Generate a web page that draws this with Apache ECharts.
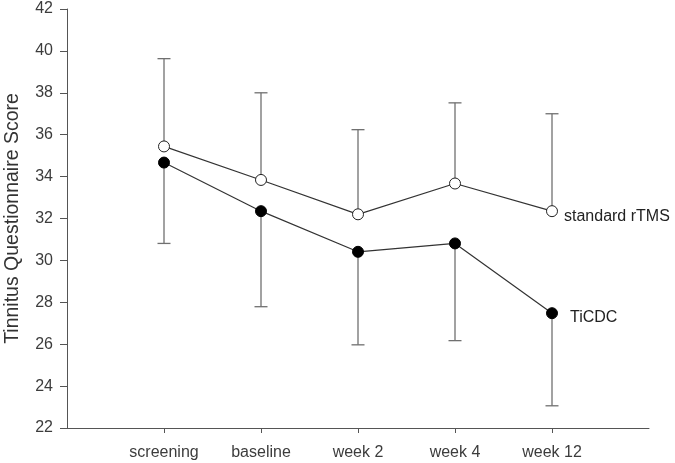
<!DOCTYPE html>
<html>
<head>
  <meta charset="UTF-8">
  <title>Tinnitus Questionnaire Score</title>
  <style>
    body { margin: 0; padding: 0; background: #fff; }
    #chart { width: 675px; height: 463px; }
  </style>
</head>
<body>
  <div id="chart"></div>
  <script src="https://cdn.jsdelivr.net/npm/echarts@6/dist/echarts.min.js"></script>
  <script>
    // time points (padded with empty slots at both ends, like the original axis)
    var timePoints = ['', 'screening', 'baseline', 'week 2', 'week 4', 'week 12', ''];

    // standard rTMS: mean and upper error limit
    var rtmsMean  = [35.44, 33.84, 32.20, 33.67, 32.35];
    var rtmsUpper = [39.63, 38.00, 36.24, 37.52, 37.00];

    // TiCDC: mean and lower error limit
    var ticdcMean  = [34.67, 32.35, 30.41, 30.81, 27.48];
    var ticdcLower = [30.81, 27.79, 25.97, 26.17, 23.06];

    var yTicks = { min: 22, max: 42, step: 2 };

    var chart = echarts.init(document.getElementById('chart'));

    function toLine(arr) {
      return arr.map(function (v, i) { return [i + 1, v]; });
    }

    // [x, mean, limit] - bar runs from the mean to the limit, cap on the limit
    var errData = [];
    rtmsMean.forEach(function (v, i) { errData.push([i + 1, v, rtmsUpper[i]]); });
    ticdcMean.forEach(function (v, i) { errData.push([i + 1, v, ticdcLower[i]]); });

    function renderErr(params, api) {
      var a = api.coord([api.value(0), api.value(1)]);
      var b = api.coord([api.value(0), api.value(2)]);
      var cap = 6.5;
      var st = { stroke: '#707070', lineWidth: 1.3 };
      return {
        type: 'group',
        children: [
          { type: 'line', shape: { x1: a[0], y1: a[1], x2: b[0], y2: b[1] }, style: st },
          { type: 'line', shape: { x1: b[0] - cap, y1: b[1], x2: b[0] + cap, y2: b[1] }, style: st }
        ]
      };
    }

    var font = 'Liberation Sans, Arial, sans-serif';

    var option = {
      animation: false,
      grid: { left: 67, right: 26, top: 9, bottom: 35, outerBoundsMode: 'none' },
      xAxis: {
        type: 'category',
        data: timePoints,
        boundaryGap: false,
        axisLine: { lineStyle: { color: '#555', width: 1 } },
        axisTick: {
          length: 5,
          lineStyle: { color: '#555' },
          interval: function (idx) { return idx > 0 && idx < timePoints.length - 1; }
        },
        axisLabel: { color: '#3c3c3c', fontSize: 16, fontFamily: font, margin: 17, interval: 0 },
        splitLine: { show: false }
      },
      yAxis: {
        type: 'value',
        min: yTicks.min,
        max: yTicks.max,
        interval: yTicks.step,
        name: 'Tinnitus Questionnaire Score',
        nameLocation: 'middle',
        nameGap: 44,
        nameTextStyle: { color: '#333', fontSize: 19.5, fontFamily: font },
        axisLine: { show: true, lineStyle: { color: '#555', width: 1 } },
        axisTick: { show: true, length: 7, lineStyle: { color: '#555' } },
        axisLabel: { color: '#3c3c3c', fontSize: 16, fontFamily: font, margin: 14 },
        splitLine: { show: false }
      },
      series: [
        {
          type: 'custom',
          renderItem: renderErr,
          data: errData,
          encode: { x: 0, y: [1, 2] },
          z: 1,
          silent: true
        },
        {
          name: 'standard rTMS',
          type: 'line',
          data: toLine(rtmsMean),
          symbol: 'circle',
          symbolSize: 11,
          z: 3,
          lineStyle: { color: '#333', width: 1.2 },
          itemStyle: { color: '#fff', borderColor: '#222', borderWidth: 1 },
          endLabel: {
            show: true,
            formatter: '{a}',
            distance: 12,
            offset: [0, 5],
            color: '#222',
            fontSize: 16,
            fontFamily: font
          }
        },
        {
          name: 'TiCDC',
          type: 'line',
          data: toLine(ticdcMean),
          symbol: 'circle',
          symbolSize: 11,
          z: 3,
          lineStyle: { color: '#333', width: 1.2 },
          itemStyle: { color: '#000', borderColor: '#000', borderWidth: 1 },
          endLabel: {
            show: true,
            formatter: '{a}',
            distance: 18,
            offset: [0, 4],
            color: '#222',
            fontSize: 16,
            fontFamily: font
          }
        }
      ]
    };

    chart.setOption(option);
  </script>
</body>
</html>
